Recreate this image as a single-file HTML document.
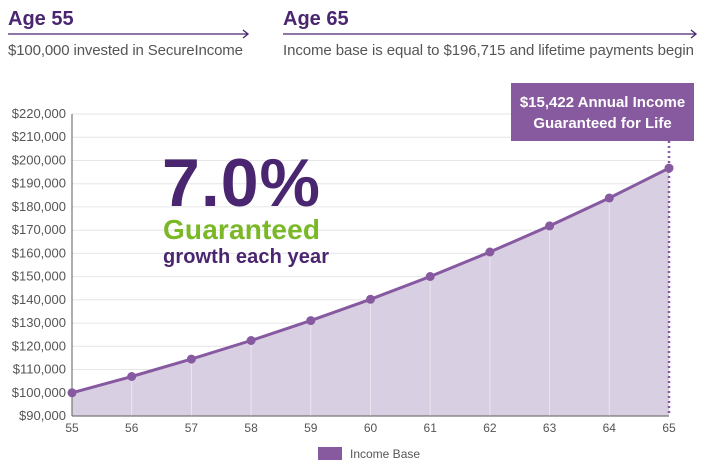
<!DOCTYPE html>
<html><head><style>
body{margin:0;background:#fff;width:715px;height:466px;overflow:hidden;font-family:"Liberation Sans",Arial,sans-serif}
</style></head><body>
<svg width="715" height="466" xmlns="http://www.w3.org/2000/svg" font-family="Liberation Sans, Arial, sans-serif">
<text x="8" y="25" font-size="20" font-weight="bold" fill="#4a2670">Age 55</text>
<line x1="8" y1="34" x2="247" y2="34" stroke="#4a2670" stroke-width="1.3"/>
<path d="M243 30 L248 34 L243 38" fill="none" stroke="#4a2670" stroke-width="1.3"/>
<text x="8" y="55" font-size="15" fill="#555" textLength="235">$100,000 invested in SecureIncome</text>
<text x="283" y="25" font-size="20" font-weight="bold" fill="#4a2670">Age 65</text>
<line x1="283" y1="34" x2="695" y2="34" stroke="#4a2670" stroke-width="1.3"/>
<path d="M691 30 L696 34 L691 38" fill="none" stroke="#4a2670" stroke-width="1.3"/>
<text x="283" y="55" font-size="15" fill="#555" textLength="411">Income base is equal to $196,715 and lifetime payments begin</text>
<g stroke="#e6e6e6" stroke-width="1">
<line x1="72" y1="114" x2="669" y2="114"/><line x1="72" y1="137.2" x2="669" y2="137.2"/><line x1="72" y1="160.5" x2="669" y2="160.5"/><line x1="72" y1="183.7" x2="669" y2="183.7"/><line x1="72" y1="206.9" x2="669" y2="206.9"/><line x1="72" y1="230.2" x2="669" y2="230.2"/><line x1="72" y1="253.4" x2="669" y2="253.4"/><line x1="72" y1="276.6" x2="669" y2="276.6"/><line x1="72" y1="299.8" x2="669" y2="299.8"/><line x1="72" y1="323.1" x2="669" y2="323.1"/><line x1="72" y1="346.3" x2="669" y2="346.3"/><line x1="72" y1="369.5" x2="669" y2="369.5"/><line x1="72" y1="392.8" x2="669" y2="392.8"/>
</g>
<polygon points="72,392.8 131.7,376.5 191.4,359.1 251.1,340.5 310.8,320.6 370.5,299.3 430.2,276.5 489.9,252 549.6,225.9 609.3,198 669,168.1 669,416 72,416" fill="#d8cfe2"/>
<g stroke="#ebe6f0" stroke-width="1">
<line x1="131.7" y1="376" x2="131.7" y2="416"/><line x1="191.4" y1="359" x2="191.4" y2="416"/><line x1="251.1" y1="340" x2="251.1" y2="416"/><line x1="310.8" y1="320" x2="310.8" y2="416"/><line x1="370.5" y1="299" x2="370.5" y2="416"/><line x1="430.2" y1="276" x2="430.2" y2="416"/><line x1="489.9" y1="252" x2="489.9" y2="416"/><line x1="549.6" y1="226" x2="549.6" y2="416"/><line x1="609.3" y1="198" x2="609.3" y2="416"/>
</g>
<line x1="72" y1="114" x2="72" y2="416" stroke="#777" stroke-width="1.2"/>
<line x1="72" y1="416" x2="669" y2="416" stroke="#777" stroke-width="1.2"/>
<line x1="669" y1="141" x2="669" y2="416" stroke="#8659a0" stroke-width="2.5" stroke-dasharray="2,3"/>
<polyline points="72,392.8 131.7,376.5 191.4,359.1 251.1,340.5 310.8,320.6 370.5,299.3 430.2,276.5 489.9,252 549.6,225.9 609.3,198 669,168.1" fill="none" stroke="#8659a0" stroke-width="3"/>
<g fill="#8659a0">
<circle cx="72" cy="392.8" r="4.5"/><circle cx="131.7" cy="376.5" r="4.5"/><circle cx="191.4" cy="359.1" r="4.5"/><circle cx="251.1" cy="340.5" r="4.5"/><circle cx="310.8" cy="320.6" r="4.5"/><circle cx="370.5" cy="299.3" r="4.5"/><circle cx="430.2" cy="276.5" r="4.5"/><circle cx="489.9" cy="252" r="4.5"/><circle cx="549.6" cy="225.9" r="4.5"/><circle cx="609.3" cy="198" r="4.5"/><circle cx="669" cy="168.1" r="4.5"/>
</g>
<g font-size="13" fill="#555" text-anchor="end">
<text x="66" y="118">$220,000</text><text x="66" y="141">$210,000</text><text x="66" y="164.5">$200,000</text><text x="66" y="187.7">$190,000</text><text x="66" y="211">$180,000</text><text x="66" y="234.2">$170,000</text><text x="66" y="257.4">$160,000</text><text x="66" y="280.6">$150,000</text><text x="66" y="303.8">$140,000</text><text x="66" y="327">$130,000</text><text x="66" y="350.3">$120,000</text><text x="66" y="373.5">$110,000</text><text x="66" y="396.8">$100,000</text><text x="66" y="420">$90,000</text>
</g>
<g font-size="12" fill="#555" text-anchor="middle">
<text x="72" y="432">55</text><text x="131.7" y="432">56</text><text x="191.4" y="432">57</text><text x="251.1" y="432">58</text><text x="310.8" y="432">59</text><text x="370.5" y="432">60</text><text x="430.2" y="432">61</text><text x="489.9" y="432">62</text><text x="549.6" y="432">63</text><text x="609.3" y="432">64</text><text x="669" y="432">65</text>
</g>
<rect x="511" y="83" width="183" height="58" fill="#87599e"/>
<text x="602.5" y="107" font-size="15" font-weight="bold" fill="#fff" text-anchor="middle">$15,422 Annual Income</text>
<text x="602.5" y="128" font-size="15" font-weight="bold" fill="#fff" text-anchor="middle">Guaranteed for Life</text>
<text x="162" y="206" font-size="68" font-weight="bold" fill="#4a2670" textLength="158">7.0%</text>
<text x="163" y="239" font-size="28" font-weight="bold" fill="#7ab828" textLength="157">Guaranteed</text>
<text x="163" y="263" font-size="20" font-weight="bold" fill="#4a2670" textLength="166">growth each year</text>
<rect x="318" y="447" width="24" height="13" fill="#87599e"/>
<text x="350" y="458" font-size="12" fill="#555">Income Base</text>
</svg>
</body></html>
